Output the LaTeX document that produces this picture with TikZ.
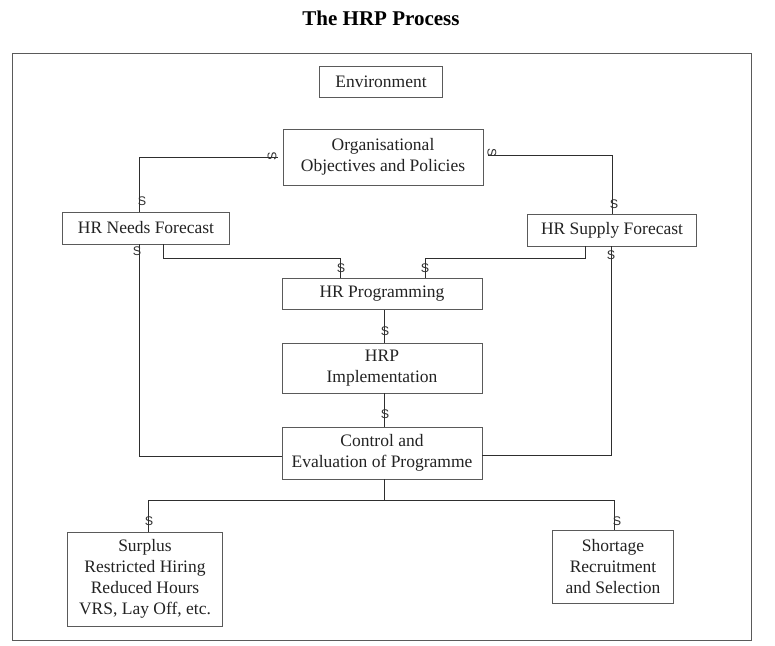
\documentclass[tikz,border=0pt]{standalone}
\usepackage{fontspec}
\setmainfont{Liberation Serif}
\newfontfamily\markfont{Liberation Sans}
\usetikzlibrary{positioning, calc}
\definecolor{boxgray}{HTML}{5A5A5A}
\definecolor{linegray}{HTML}{2E2E2E}
\definecolor{txtgray}{HTML}{222222}
\tikzset{
    procbox/.style = {draw=boxgray, line width=0.9pt, inner sep=0pt, align=center,
        text=txtgray, font=\fontsize{17.5}{21}\selectfont},
    link/.style = {draw=linegray, line width=1pt},
    smark/.style = {inner sep=0pt, text=linegray, font=\markfont\fontsize{12.5}{12}\selectfont},
}

\begin{document}
\begin{tikzpicture}[x=1pt,y=-1pt]
            \useasboundingbox (0,0) rectangle (775,645);
            \node (title) at (381,18) {\fontsize{21}{24}\selectfont\bfseries The HRP Process};
            \draw[boxgray, line width=0.9pt] (12,53) rectangle (751,640);
            % boxes
            \node (env) [procbox, minimum width=123pt, minimum height=31pt] at (381,82) {Environment};
            \node (org) [procbox, minimum width=200pt, minimum height=56pt] at (383,157) {Organisational\\Objectives and Policies};
            \node (needs) [procbox, minimum width=167pt, minimum height=32pt] at (146,228) {HR Needs Forecast};
            \node (supply) [procbox, minimum width=169pt, minimum height=32pt] at (612,230) {HR Supply Forecast};
            \node (prog) [procbox, minimum width=200pt, minimum height=31pt] at (382,294) {HR Programming};
            \node (impl) [procbox, minimum width=200pt, minimum height=50pt] at (382,368) {HRP\\Implementation};
            \node (ctrl) [procbox, minimum width=200pt, minimum height=52pt] at (382,453) {Control and\\Evaluation of Programme};
            \node (surplus) [procbox, minimum width=155pt, minimum height=94pt] at (145,579) {Surplus\\Restricted Hiring\\Reduced Hours\\VRS, Lay Off, etc.};
            \node (shortage) [procbox, minimum width=121pt, minimum height=73pt] at (613,567) {Shortage\\Recruitment\\and Selection};
            % connectors
            \draw[link] ([xshift=-5pt]org.west) -| ([xshift=-7pt]needs.north);
            \draw[link] ([xshift=5pt,yshift=2pt]org.east) -| (supply.north);
            \draw[link] ([xshift=17pt]needs.south) -- ++(0,14) -| ([xshift=-42pt]prog.north);
            \draw[link] ([xshift=-27pt]supply.south) -- ++(0,12) -| ([xshift=43pt]prog.north);
            \draw[link] ([xshift=-7pt]needs.south) |- ([yshift=-3pt]ctrl.west);
            \draw[link] ([xshift=-1pt]supply.south) |- ([yshift=-2pt]ctrl.east);
            \draw[link] ([xshift=2pt]prog.south) -- ([xshift=2pt]impl.north);
            \draw[link] ([xshift=2pt]impl.south) -- ([xshift=2pt]ctrl.north);
            \draw[link] ([xshift=2pt]ctrl.south) -- ++(0,21) coordinate (split);
            \draw[link] ([xshift=3pt]surplus.north) |- (split) -| ([xshift=1pt]shortage.north);
            % arrow marks
            \node (s1) [smark, rotate=90] at (272,156) {S};
            \node (s2) [smark] at (142,201) {S};
            \node (s3) [smark, rotate=-90] at (492,153) {S};
            \node (s4) [smark] at (614,204) {S};
            \node (s5) [smark] at (137,251) {S};
            \node (s6) [smark] at (611,255) {S};
            \node (s7) [smark] at (341,268) {S};
            \node (s8) [smark] at (425,268) {S};
            \node (s9) [smark] at (385,331) {S};
            \node (s10) [smark] at (385,414) {S};
            \node (s11) [smark] at (149,521) {S};
            \node (s12) [smark] at (617,521) {S};
\end{tikzpicture}
\end{document}
